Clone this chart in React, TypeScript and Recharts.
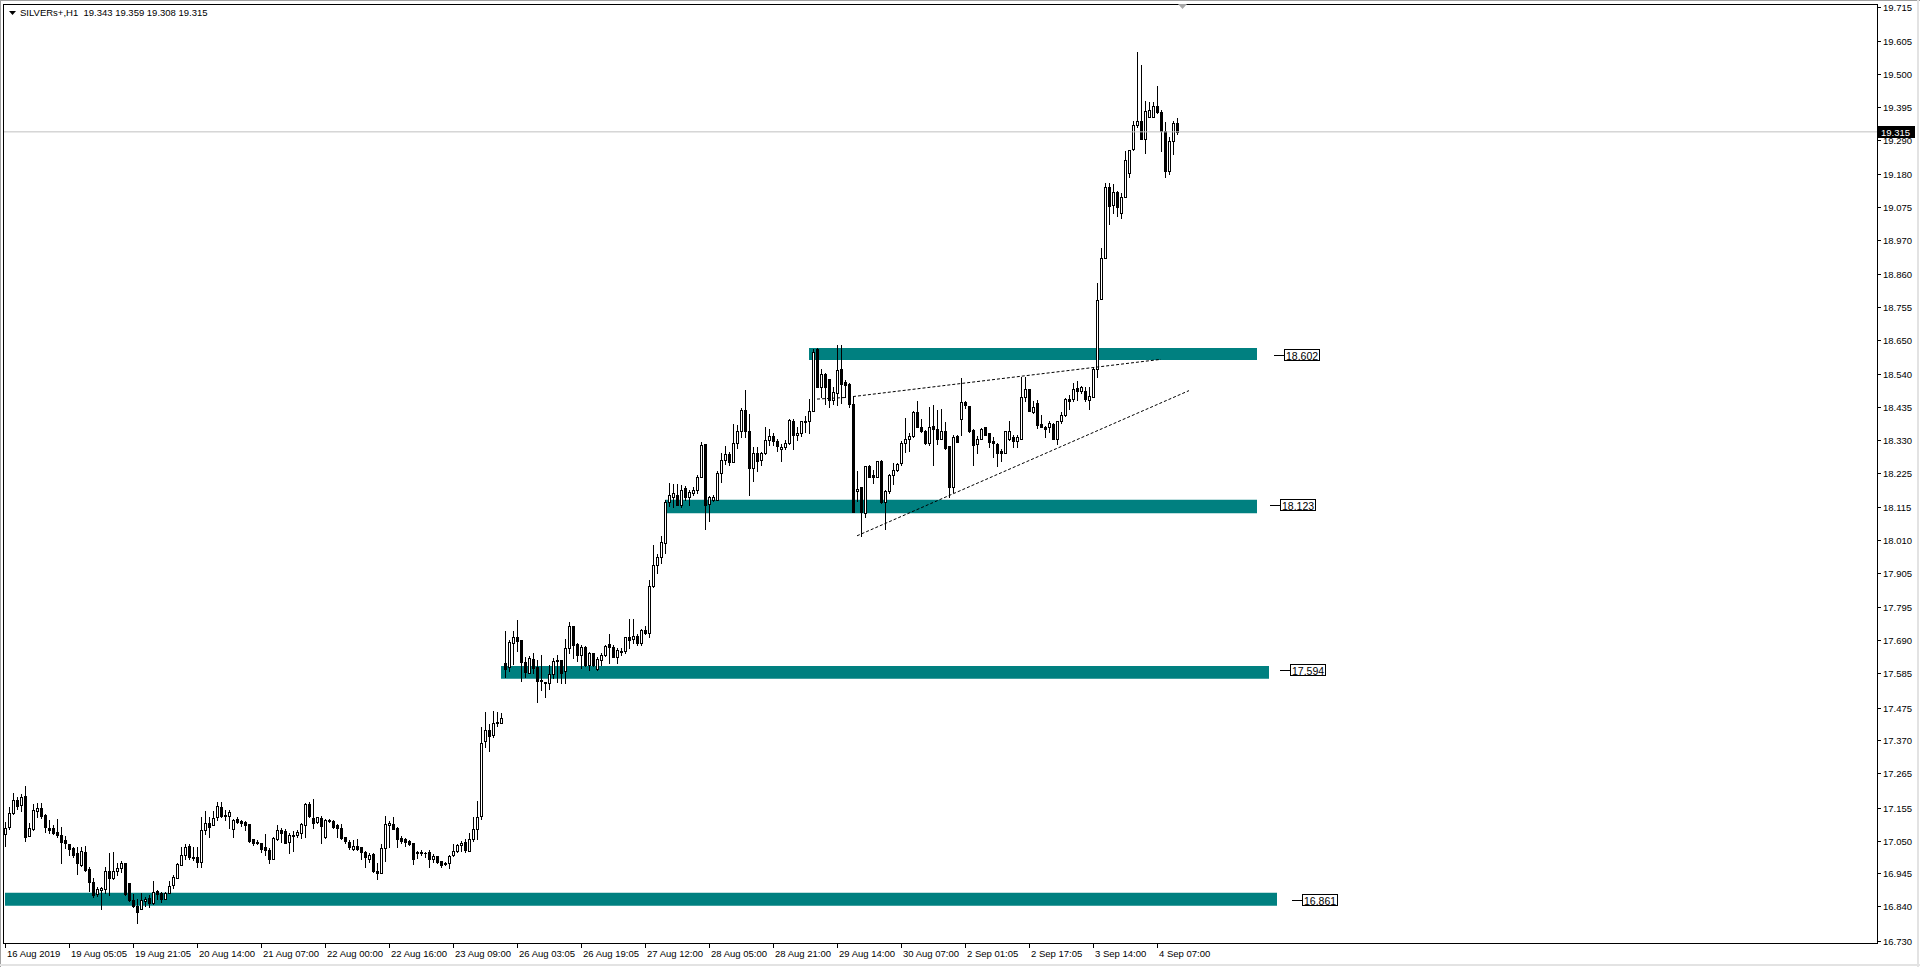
import {
  Bar,
  ComposedChart,
  ReferenceArea,
  ReferenceDot,
  ReferenceLine,
  XAxis,
  YAxis,
} from "recharts"

// open, high, low, close
type Candle = [number, number, number, number]

const symbol = "SILVERs+,H1"

const aug16to23: Candle[] = [
  [17.07, 17.11, 17.033, 17.09], [17.092, 17.158, 17.086, 17.137], [17.137, 17.201, 17.135, 17.18], [17.18, 17.19, 17.15, 17.16],
  [17.163, 17.199, 17.145, 17.188], [17.192, 17.224, 17.05, 17.062], [17.066, 17.107, 17.066, 17.089], [17.086, 17.167, 17.085, 17.148],
  [17.145, 17.169, 17.124, 17.153], [17.153, 17.169, 17.121, 17.13], [17.131, 17.135, 17.078, 17.092], [17.09, 17.116, 17.073, 17.084],
  [17.09, 17.1, 17.07, 17.075], [17.077, 17.119, 17.062, 17.069], [17.068, 17.092, 16.979, 17.046], [17.052, 17.066, 17.025, 17.041],
  [17.039, 17.04, 17.003, 17.024], [17.026, 17.03, 16.999, 17.005], [17.009, 17.028, 16.943, 16.977], [16.973, 17.028, 16.969, 17.016],
  [17.013, 17.033, 16.954, 16.956], [16.958, 16.967, 16.89, 16.919], [16.918, 16.932, 16.871, 16.875], [16.879, 16.903, 16.873, 16.894],
  [16.892, 16.903, 16.83, 16.898], [16.894, 16.967, 16.881, 16.952], [16.952, 17.009, 16.875, 16.932], [16.932, 17.013, 16.928, 16.952],
  [16.953, 16.977, 16.94, 16.962], [16.961, 16.986, 16.951, 16.977], [16.977, 16.979, 16.876, 16.878], [16.913, 16.915, 16.858, 16.86],
  [16.86, 16.878, 16.839, 16.842], [16.842, 16.862, 16.788, 16.823], [16.832, 16.884, 16.83, 16.86], [16.856, 16.871, 16.842, 16.864],
  [16.866, 16.877, 16.839, 16.849], [16.849, 16.921, 16.847, 16.887], [16.888, 16.892, 16.864, 16.879], [16.881, 16.887, 16.855, 16.864],
  [16.864, 16.887, 16.864, 16.883], [16.882, 16.922, 16.881, 16.906], [16.908, 16.94, 16.9, 16.935], [16.932, 16.979, 16.932, 16.974],
  [16.973, 17.03, 16.971, 17.004], [17.003, 17.039, 16.992, 17.03], [17.033, 17.039, 16.99, 16.999], [16.999, 17.028, 16.988, 16.994],
  [16.999, 17.028, 16.964, 16.983], [16.983, 17.126, 16.967, 17.084], [17.084, 17.145, 17.071, 17.107], [17.107, 17.124, 17.062, 17.094],
  [17.099, 17.145, 17.099, 17.122], [17.124, 17.173, 17.116, 17.16], [17.158, 17.173, 17.124, 17.128], [17.133, 17.148, 17.116, 17.128],
  [17.128, 17.148, 17.089, 17.141], [17.088, 17.119, 17.062, 17.116], [17.12, 17.126, 17.107, 17.109], [17.111, 17.116, 17.097, 17.107],
  [17.109, 17.112, 17.084, 17.101], [17.103, 17.103, 17.046, 17.048], [17.054, 17.056, 17.035, 17.043], [17.046, 17.052, 17.039, 17.041],
  [17.041, 17.043, 17.015, 17.022], [17.03, 17.071, 17.004, 17.02], [17.02, 17.025, 16.977, 16.992], [16.992, 17.062, 16.99, 17.057],
  [17.054, 17.1, 17.052, 17.084], [17.084, 17.089, 17.046, 17.075], [17.082, 17.086, 17.041, 17.043], [17.045, 17.075, 17.009, 17.067],
  [17.065, 17.082, 17.018, 17.069], [17.067, 17.084, 17.062, 17.077], [17.075, 17.107, 17.057, 17.103], [17.099, 17.169, 17.062, 17.167],
  [17.167, 17.174, 17.124, 17.128], [17.121, 17.182, 17.089, 17.107], [17.109, 17.126, 17.105, 17.124], [17.122, 17.129, 17.043, 17.097],
  [17.06, 17.118, 17.058, 17.116], [17.116, 17.12, 17.108, 17.111], [17.111, 17.116, 17.089, 17.094], [17.099, 17.103, 17.062, 17.09],
  [17.09, 17.103, 17.054, 17.058], [17.06, 17.062, 17.043, 17.048], [17.045, 17.052, 17.024, 17.028], [17.024, 17.052, 17.02, 17.033],
  [17.033, 17.056, 17.02, 17.024], [17.03, 17.03, 16.992, 17.013], [17.015, 17.018, 16.966, 16.999], [16.992, 17.009, 16.981, 17.005],
  [17.007, 17.009, 16.95, 16.952], [16.952, 16.977, 16.926, 16.945], [16.945, 17.039, 16.945, 17.025], [17.025, 17.128, 16.986, 17.103],
  [17.1, 17.111, 17.028, 17.105], [17.103, 17.124, 17.086, 17.088], [17.09, 17.092, 17.028, 17.056], [17.058, 17.065, 17.043, 17.05],
  [17.054, 17.058, 17.033, 17.045], [17.05, 17.052, 17.035, 17.039], [17.041, 17.043, 16.975, 16.99], [17.015, 17.018, 16.994, 17.011],
  [17.015, 17.02, 17.004, 17.009], [17.011, 17.013, 16.996, 17.009], [17.013, 17.02, 16.967, 16.992], [16.992, 17.007, 16.981, 17.001],
  [17.0, 17.001, 16.979, 16.982], [16.984, 16.986, 16.964, 16.973], [16.979, 16.981, 16.971, 16.975], [16.977, 17.003, 16.961, 17.001],
  [17.003, 17.039, 17.001, 17.016], [17.016, 17.039, 17.013, 17.037], [17.035, 17.05, 17.018, 17.041], [17.045, 17.056, 17.013, 17.02],
  [17.018, 17.073, 17.016, 17.056], [17.056, 17.124, 17.048, 17.086], [17.086, 17.175, 17.054, 17.124], [17.128, 17.412, 17.12, 17.361],
  [17.369, 17.461, 17.348, 17.404], [17.404, 17.423, 17.337, 17.384], [17.389, 17.465, 17.382, 17.425], [17.425, 17.461, 17.417, 17.43],
  [17.427, 17.457, 17.427, 17.441],
]

const aug26to30: Candle[] = [
  [17.616, 17.72, 17.572, 17.599], [17.604, 17.691, 17.591, 17.685], [17.683, 17.721, 17.614, 17.7], [17.7, 17.755, 17.657, 17.689],
  [17.691, 17.691, 17.561, 17.621], [17.621, 17.636, 17.572, 17.589], [17.587, 17.64, 17.585, 17.634], [17.63, 17.648, 17.587, 17.6],
  [17.604, 17.627, 17.494, 17.561], [17.563, 17.643, 17.531, 17.559], [17.557, 17.557, 17.51, 17.555], [17.553, 17.611, 17.535, 17.582],
  [17.582, 17.632, 17.568, 17.625], [17.627, 17.643, 17.558, 17.625], [17.627, 17.627, 17.553, 17.584], [17.591, 17.693, 17.555, 17.664],
  [17.664, 17.749, 17.65, 17.736], [17.736, 17.736, 17.632, 17.676], [17.678, 17.68, 17.625, 17.644], [17.642, 17.675, 17.6, 17.668],
  [17.668, 17.672, 17.608, 17.612], [17.612, 17.653, 17.595, 17.65], [17.648, 17.65, 17.608, 17.61], [17.597, 17.638, 17.595, 17.629],
  [17.627, 17.648, 17.612, 17.644], [17.644, 17.676, 17.64, 17.672], [17.678, 17.71, 17.619, 17.67], [17.668, 17.674, 17.636, 17.638],
  [17.636, 17.664, 17.619, 17.659], [17.657, 17.664, 17.644, 17.653], [17.655, 17.702, 17.65, 17.7], [17.7, 17.757, 17.664, 17.691],
  [17.695, 17.757, 17.68, 17.704], [17.704, 17.71, 17.676, 17.68], [17.683, 17.725, 17.674, 17.723], [17.723, 17.736, 17.71, 17.715],
  [17.715, 17.883, 17.7, 17.864], [17.864, 17.995, 17.859, 17.93], [17.93, 17.965, 17.905, 17.955], [17.957, 18.025, 17.938, 18.004],
  [18.002, 18.138, 17.97, 18.132], [18.132, 18.192, 18.119, 18.155], [18.149, 18.19, 18.117, 18.16], [18.155, 18.19, 18.121, 18.124],
  [18.124, 18.185, 18.115, 18.172], [18.177, 18.183, 18.138, 18.147], [18.149, 18.172, 18.124, 18.164], [18.16, 18.181, 18.153, 18.17],
  [18.17, 18.219, 18.16, 18.213], [18.213, 18.324, 18.211, 18.313], [18.317, 18.317, 18.047, 18.121], [18.126, 18.151, 18.072, 18.147],
  [18.138, 18.153, 18.134, 18.147], [18.138, 18.232, 18.138, 18.226], [18.226, 18.29, 18.196, 18.266], [18.266, 18.311, 18.254, 18.285],
  [18.285, 18.292, 18.249, 18.26], [18.26, 18.381, 18.26, 18.32], [18.32, 18.377, 18.305, 18.358], [18.358, 18.432, 18.341, 18.426],
  [18.426, 18.49, 18.341, 18.358], [18.358, 18.413, 18.153, 18.241], [18.241, 18.309, 18.198, 18.29], [18.29, 18.309, 18.23, 18.262],
  [18.266, 18.292, 18.249, 18.288], [18.288, 18.371, 18.285, 18.33], [18.33, 18.366, 18.313, 18.343], [18.343, 18.352, 18.313, 18.326],
  [18.328, 18.332, 18.294, 18.311], [18.302, 18.317, 18.264, 18.309], [18.307, 18.33, 18.3, 18.32], [18.32, 18.398, 18.317, 18.394],
  [18.392, 18.396, 18.302, 18.345], [18.345, 18.373, 18.33, 18.354], [18.354, 18.392, 18.343, 18.39], [18.392, 18.407, 18.356, 18.388],
  [18.39, 18.46, 18.352, 18.422], [18.422, 18.62, 18.422, 18.611], [18.62, 18.624, 18.498, 18.498], [18.498, 18.556, 18.469, 18.541],
  [18.541, 18.543, 18.445, 18.498], [18.524, 18.524, 18.435, 18.458], [18.458, 18.498, 18.445, 18.484], [18.481, 18.633, 18.443, 18.554],
  [18.556, 18.633, 18.449, 18.509], [18.516, 18.522, 18.469, 18.507], [18.509, 18.511, 18.435, 18.445], [18.445, 18.469, 18.101, 18.101],
  [18.168, 18.23, 18.136, 18.174], [18.179, 18.179, 18.025, 18.101], [18.098, 18.247, 18.085, 18.247], [18.247, 18.251, 18.211, 18.213],
  [18.219, 18.234, 18.194, 18.211], [18.211, 18.264, 18.211, 18.262], [18.262, 18.266, 18.128, 18.132], [18.132, 18.17, 18.045, 18.168],
  [18.168, 18.222, 18.16, 18.217], [18.217, 18.256, 18.19, 18.234], [18.234, 18.256, 18.232, 18.253], [18.256, 18.326, 18.249, 18.322],
  [18.322, 18.402, 18.292, 18.332], [18.332, 18.354, 18.294, 18.343], [18.343, 18.422, 18.339, 18.42], [18.42, 18.456, 18.371, 18.373],
  [18.373, 18.396, 18.356, 18.358], [18.36, 18.362, 18.317, 18.32], [18.32, 18.437, 18.315, 18.373], [18.375, 18.441, 18.251, 18.364],
  [18.366, 18.426, 18.317, 18.334], [18.334, 18.428, 18.332, 18.36], [18.36, 18.388, 18.302, 18.305], [18.311, 18.311, 18.149, 18.181],
  [18.181, 18.345, 18.164, 18.339], [18.343, 18.345, 18.324, 18.324],
]

const sep2to4: Candle[] = [
  [18.396, 18.528, 18.345, 18.452], [18.452, 18.456, 18.434, 18.441], [18.439, 18.439, 18.356, 18.358], [18.362, 18.364, 18.251, 18.315],
  [18.319, 18.343, 18.29, 18.334], [18.334, 18.368, 18.332, 18.366], [18.371, 18.373, 18.345, 18.347], [18.352, 18.354, 18.309, 18.324],
  [18.326, 18.339, 18.275, 18.32], [18.317, 18.32, 18.247, 18.288], [18.294, 18.302, 18.262, 18.29], [18.29, 18.36, 18.288, 18.358],
  [18.332, 18.39, 18.33, 18.36], [18.341, 18.345, 18.309, 18.326], [18.326, 18.345, 18.309, 18.339], [18.335, 18.533, 18.335, 18.467],
  [18.467, 18.533, 18.456, 18.492], [18.492, 18.494, 18.422, 18.422], [18.42, 18.454, 18.415, 18.435], [18.45, 18.458, 18.368, 18.379],
  [18.381, 18.409, 18.371, 18.373], [18.373, 18.375, 18.339, 18.366], [18.373, 18.39, 18.356, 18.386], [18.381, 18.386, 18.334, 18.334],
  [18.334, 18.392, 18.317, 18.39], [18.39, 18.42, 18.383, 18.409], [18.409, 18.464, 18.407, 18.46], [18.462, 18.475, 18.428, 18.456],
  [18.46, 18.513, 18.456, 18.492], [18.496, 18.52, 18.458, 18.488], [18.488, 18.503, 18.481, 18.498], [18.488, 18.498, 18.456, 18.46],
  [18.458, 18.5, 18.428, 18.471], [18.469, 18.562, 18.469, 18.556], [18.556, 18.831, 18.53, 18.778], [18.78, 18.943, 18.78, 18.911],
  [18.911, 19.151, 18.911, 19.14], [19.14, 19.151, 19.021, 19.078], [19.08, 19.148, 19.055, 19.123], [19.123, 19.127, 19.046, 19.076],
  [19.057, 19.119, 19.039, 19.108], [19.106, 19.255, 19.106, 19.225], [19.182, 19.257, 19.17, 19.257], [19.259, 19.349, 19.257, 19.336],
  [19.336, 19.57, 19.33, 19.351], [19.351, 19.53, 19.291, 19.293], [19.291, 19.413, 19.246, 19.383], [19.364, 19.41, 19.361, 19.385],
  [19.364, 19.41, 19.361, 19.398], [19.398, 19.462, 19.376, 19.379], [19.379, 19.385, 19.253, 19.317], [19.319, 19.347, 19.172, 19.189],
  [19.189, 19.3, 19.18, 19.285], [19.285, 19.351, 19.244, 19.342], [19.343, 19.359, 19.308, 19.315],
]

// one label every 16 bars, starting at the first bar
const timeLabels = [
  "16 Aug 2019", "19 Aug 05:05", "19 Aug 21:05", "20 Aug 14:00", "21 Aug 07:00", "22 Aug 00:00", "22 Aug 16:00",
  "23 Aug 09:00", "26 Aug 03:05", "26 Aug 19:05", "27 Aug 12:00", "28 Aug 05:00", "28 Aug 21:00", "29 Aug 14:00",
  "30 Aug 07:00", "2 Sep 01:05", "2 Sep 17:05", "3 Sep 14:00", "4 Sep 07:00",
]
const labelStep = 16

const priceTicks = [
  19.715, 19.605, 19.5, 19.395, 19.29, 19.18, 19.075, 18.97, 18.86, 18.755, 18.65, 18.54, 18.435, 18.33, 18.225,
  18.115, 18.01, 17.905, 17.795, 17.69, 17.585, 17.475, 17.37, 17.265, 17.155, 17.05, 16.945, 16.84, 16.73,
]

// support / resistance boxes, from bar to bar, with their price tags
const zones = [
  { from: 201, to: 313, lo: 18.586, hi: 18.624, tag: 18.602, tagAt: 317.25 },
  { from: 165, to: 313, lo: 18.096, hi: 18.139, tag: 18.123, tagAt: 316.25 },
  { from: 124, to: 316, lo: 17.567, hi: 17.608, tag: 17.594, tagAt: 318.75 },
  { from: 0, to: 318, lo: 16.842, hi: 16.883, tag: 16.861, tagAt: 321.75 },
]

// dashed trend lines [bar, price] -> [bar, price]
const trendLines = [
  { x1: 212, y1: 18.469, x2: 289, y2: 18.588 },
  { x1: 213, y1: 18.024, x2: 296, y2: 18.488 },
  { x1: 203, y1: 18.461, x2: 210, y2: 18.466 },
]

const candles = [...aug16to23, ...aug26to30, ...sep2to4]
const SLOTS = 468
const Y_MIN = 16.7195
const Y_MAX = 19.7236
const FONT = "'Liberation Sans', Arial, sans-serif"

const data = Array.from({ length: SLOTS }, (_, i) => {
  const c = candles[i]
  if (!c) return { i }
  return { i, o: c[0], h: c[1], l: c[2], c: c[3], range: [c[2], c[1]] }
})
const last = candles[candles.length - 1]
const lastPrice = last[3]

const CandleShape = (props: any) => {
  const { x, y, width, height, payload } = props
  if (!payload || payload.o == null) return null
  const top = Math.min(y, y + height)
  const bot = Math.max(y, y + height)
  const span = payload.h - payload.l
  const py = (v: number) => (span > 0 ? top + ((payload.h - v) / span) * (bot - top) : top)
  const cx = Math.round(x + width / 2)
  const yH = Math.round(py(payload.h))
  const yL = Math.round(py(payload.l))
  const yO = Math.round(py(payload.o))
  const yC = Math.round(py(payload.c))
  const up = payload.c >= payload.o
  const bTop = Math.min(yO, yC)
  const bH = Math.abs(yO - yC)
  return (
    <g>
      <line x1={cx + 0.5} x2={cx + 0.5} y1={yH} y2={yL + 1} stroke="#000" strokeWidth={1} />
      {bH < 1 ? (
        <line x1={cx - 1} x2={cx + 2} y1={bTop + 0.5} y2={bTop + 0.5} stroke="#000" strokeWidth={1} />
      ) : (
        <rect x={cx - 0.5} y={bTop + 0.5} width={2} height={bH} fill={up ? "#fff" : "#000"} stroke="#000" strokeWidth={1} />
      )}
    </g>
  )
}

const TimeTick = ({ x, y, payload }: any) => {
  const cx = Math.round(x)
  const label = timeLabels[Math.round(payload.value / labelStep)]
  return (
    <g>
      <line x1={cx + 0.5} x2={cx + 0.5} y1={y} y2={y + 4} stroke="#000" />
      <text x={cx + 2} y={y + 13} fontSize={9.5} fontFamily={FONT} fill="#000">
        {label}
      </text>
    </g>
  )
}

const PriceTick = ({ x, y, payload }: any) => {
  const ty = Math.round(y)
  return (
    <g>
      <line x1={x + 1} x2={x + 4} y1={ty + 0.5} y2={ty + 0.5} stroke="#000" />
      <text x={x + 6} y={ty + 4} fontSize={9.5} fontFamily={FONT} fill="#000">
        {Number(payload.value).toFixed(3)}
      </text>
    </g>
  )
}

const PriceTag = ({ cx, cy, text }: any) => {
  const x = Math.round(cx)
  const y = Math.round(cy)
  return (
    <g>
      <line x1={x} x2={x + 10} y1={y + 0.5} y2={y + 0.5} stroke="#000" />
      <rect x={x + 10.5} y={y - 5.5} width={35} height={11} fill="#fff" stroke="#000" />
      <text x={x + 12} y={y + 4.5} fontSize={10.5} fontFamily={FONT} fill="#000">
        {text}
      </text>
    </g>
  )
}

const LastPriceBox = ({ viewBox }: any) => {
  if (!viewBox) return null
  const x = Math.round(viewBox.x + viewBox.width)
  const y = Math.round(viewBox.y)
  return (
    <g>
      <rect x={x} y={y - 6} width={38} height={12} fill="#000" />
      <text x={x + 4} y={y + 4} fontSize={9.5} fontFamily={FONT} fill="#fff">
        {lastPrice.toFixed(3)}
      </text>
    </g>
  )
}

export default function App() {
  const tickIdx = timeLabels.map((_, k) => k * labelStep)
  const header = `${symbol}  ${last.map((v) => v.toFixed(3)).join(" ")}`
  return (
    <div style={{ position: "absolute", left: 0, top: 0, width: 1920, height: 967, background: "#fff" }}>
      <ComposedChart width={1920} height={967} data={data} margin={{ top: 4, right: 0, bottom: 0, left: 3 }}>
        <XAxis
          dataKey="i"
          type="category"
          ticks={tickIdx}
          interval={0}
          height={23}
          padding={{ left: 0, right: 2 }}
          axisLine={false}
          tickLine={false}
          tickSize={0}
          tickMargin={0}
          tick={<TimeTick />}
        />
        <XAxis
          xAxisId="t"
          dataKey="i"
          type="number"
          domain={[-0.5, SLOTS - 0.5]}
          allowDataOverflow
          padding={{ left: 0, right: 2 }}
          hide
        />
        <YAxis
          orientation="right"
          type="number"
          domain={[Y_MIN, Y_MAX]}
          allowDataOverflow
          ticks={priceTicks}
          interval={0}
          width={43}
          axisLine={false}
          tickLine={false}
          tickSize={0}
          tickMargin={0}
          tick={<PriceTick />}
        />
        {zones.map((z) => (
          <ReferenceArea
            key={z.tag}
            xAxisId="t"
            x1={z.from}
            x2={z.to}
            y1={z.lo}
            y2={z.hi}
            fill="#008080"
            fillOpacity={1}
            stroke="none"
          />
        ))}
        <ReferenceLine
          y={lastPrice}
          stroke="#c0c0c0"
          strokeWidth={1}
          label={(p: any) => <LastPriceBox viewBox={p.viewBox} />}
        />
        <Bar dataKey="range" isAnimationActive={false} shape={(p: any) => <CandleShape {...p} />} />
        {trendLines.map((t, k) => (
          <ReferenceLine
            key={k}
            xAxisId="t"
            segment={[
              { x: t.x1, y: t.y1 },
              { x: t.x2, y: t.y2 },
            ]}
            stroke="#000"
            strokeWidth={1}
            strokeDasharray="3 2"
          />
        ))}
        {zones.map((z) => (
          <ReferenceDot
            key={"tag" + z.tag}
            xAxisId="t"
            x={z.tagAt}
            y={z.tag}
            shape={(p: any) => <PriceTag cx={p.cx} cy={p.cy} text={z.tag.toFixed(3)} />}
          />
        ))}
      </ComposedChart>
      <svg
        width={1920}
        height={967}
        style={{ position: "absolute", left: 0, top: 0, pointerEvents: "none" }}
      >
        <line x1={0.5} x2={0.5} y1={0} y2={967} stroke="#a0a0a0" />
        <line x1={0} x2={1920} y1={0.5} y2={0.5} stroke="#a0a0a0" />
        <line x1={1918} x2={1918} y1={0} y2={967} stroke="#e3e3e3" strokeWidth={2} />
        <line x1={0} x2={1920} y1={965} y2={965} stroke="#e3e3e3" strokeWidth={2} />
        <rect x={3.5} y={4.5} width={1874} height={939} fill="none" stroke="#000" />
        <polygon points="1178,4 1187,4 1182.5,9" fill="#a8a8a8" />
        <polygon points="9,11 16,11 12.5,15" fill="#000" />
        <text x={20} y={16} fontSize={9.5} fontFamily={FONT} fill="#000" style={{ whiteSpace: "pre" }}>
          {header}
        </text>
      </svg>
    </div>
  )
}
